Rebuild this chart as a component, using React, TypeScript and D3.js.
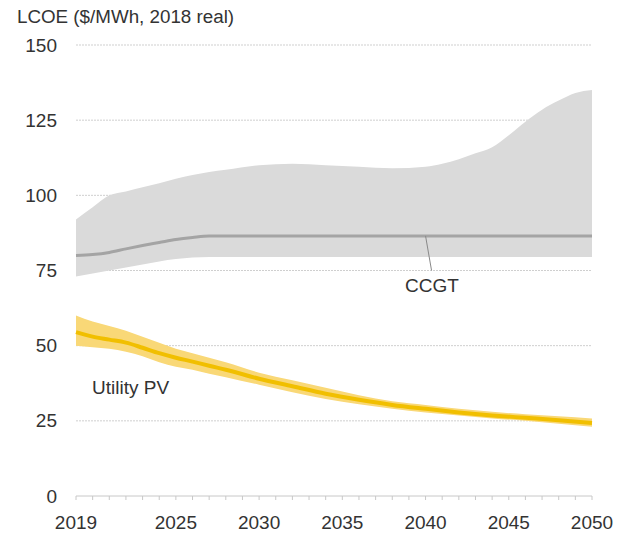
import React from 'react';
import * as d3 from 'd3';

// CCGT range and central estimate
const ccgtYears = [2019, 2020, 2021, 2022, 2023, 2024, 2025, 2026, 2027, 2028, 2030, 2032, 2034, 2036, 2038, 2040, 2041, 2042, 2043, 2044, 2045, 2046, 2047, 2048, 2049, 2050];
const ccgtHigh = [92, 96, 100, 101.3, 102.7, 104, 105.5, 106.8, 107.8, 108.5, 110, 110.5, 110, 109.5, 109, 109.5, 110.5, 112, 114, 116, 120, 124.5, 128.5, 131.5, 134, 135];
const ccgtLow = [73, 74, 75, 76, 77, 78, 78.8, 79.3, 79.5, 79.5, 79.5, 79.5, 79.5, 79.5, 79.5, 79.5, 79.5, 79.5, 79.5, 79.5, 79.5, 79.5, 79.5, 79.5, 79.5, 79.5];
const ccgtMid = [80, 80.3, 81, 82.2, 83.3, 84.3, 85.3, 86, 86.5, 86.5, 86.5, 86.5, 86.5, 86.5, 86.5, 86.5, 86.5, 86.5, 86.5, 86.5, 86.5, 86.5, 86.5, 86.5, 86.5, 86.5];

// Utility PV range and central estimate
const pvYears = [2019, 2020, 2021, 2022, 2023, 2024, 2025, 2026, 2027, 2028, 2030, 2032, 2034, 2036, 2038, 2040, 2042, 2044, 2046, 2048, 2050];
const pvMid = [54.5, 53, 52, 51, 49.3, 47.5, 46, 44.7, 43.3, 42, 39, 36.5, 34, 32, 30.3, 29, 27.8, 26.8, 26, 25.2, 24.3];
const pvHigh = [60, 58, 56.5, 55, 53, 51, 49, 47.5, 46, 44.5, 41, 38.5, 36, 33.5, 31.5, 30.3, 29, 28, 27.2, 26.5, 25.8];
const pvLow = [50, 49.5, 49, 48, 46.5, 44.5, 43, 42, 40.7, 39.5, 37, 34.5, 32.3, 30.5, 29, 27.8, 26.8, 25.8, 25, 24, 23];

const yTicks = [0, 25, 50, 75, 100, 125, 150];
const xLabels = [2019, 2025, 2030, 2035, 2040, 2045, 2050];

const font = '"Liberation Sans", Arial, Helvetica, sans-serif';

export default function App() {
  const width = 618;
  const height = 534;

  const x = d3.scaleLinear().domain([2019, 2050]).range([76, 592]);
  const y = d3.scaleLinear().domain([0, 150]).range([496, 45]);

  const band = (years: number[], lo: number[], hi: number[]) =>
    d3.area<number>()
      .x((_, i) => x(years[i]))
      .y0((_, i) => y(lo[i]))
      .y1((_, i) => y(hi[i]))
      .curve(d3.curveMonotoneX)(years) as string;

  const line = (years: number[], vals: number[]) =>
    d3.line<number>()
      .x((_, i) => x(years[i]))
      .y((_, i) => y(vals[i]))
      .curve(d3.curveMonotoneX)(years) as string;

  const minorTicks = d3.range(2019, 2051);

  return (
    <svg width={width} height={height} style={{ position: 'absolute', left: 0, top: 0 }} fontFamily={font}>
      <rect width={width} height={height} fill="#fff" />

      <text x={17} y={23} fontSize={18.8} fill="#333">LCOE ($/MWh, 2018 real)</text>

      {/* gridlines */}
      {yTicks.filter(t => t > 0).map(t => (
        <line key={t} x1={x(2019)} x2={x(2050)} y1={y(t)} y2={y(t)}
          stroke="#cfcfcf" strokeWidth={1} strokeDasharray="2,1" />
      ))}

      {/* y labels */}
      {yTicks.map(t => (
        <text key={t} x={57} y={y(t)} dy="0.35em" textAnchor="end" fontSize={19} fill="#333">{t}</text>
      ))}

      {/* CCGT */}
      <path d={band(ccgtYears, ccgtLow, ccgtHigh)} fill="#dadada" />
      <path d={line(ccgtYears, ccgtMid)} fill="none" stroke="#a4a4a4" strokeWidth={3} />
      <line x1={x(2040)} y1={y(86.5)} x2={x(2040) + 6} y2={y(75)} stroke="#888" strokeWidth={1} />
      <text x={432} y={292} textAnchor="middle" fontSize={19} fill="#333">CCGT</text>

      {/* Utility PV */}
      <path d={band(pvYears, pvLow, pvHigh)} fill="#f9d877" />
      <path d={line(pvYears, pvMid)} fill="none" stroke="#f1bf00" strokeWidth={4} />
      <text x={92} y={394} fontSize={19} fill="#333">Utility PV</text>

      {/* x axis */}
      <line x1={x(2019)} x2={x(2050)} y1={y(0)} y2={y(0)} stroke="#c8c8c8" strokeWidth={1} />
      {minorTicks.map(t => (
        <line key={t} x1={x(t)} x2={x(t)} y1={y(0)} y2={y(0) + 4} stroke="#c8c8c8" strokeWidth={1} />
      ))}
      {xLabels.map(t => (
        <text key={t} x={x(t)} y={529} textAnchor="middle" fontSize={19} fill="#333">{t}</text>
      ))}
    </svg>
  );
}
